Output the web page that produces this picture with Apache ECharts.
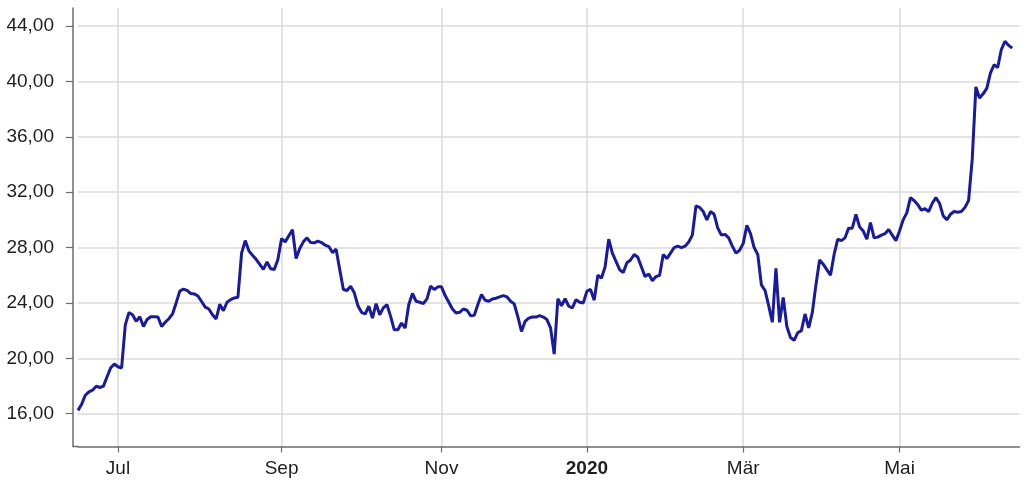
<!DOCTYPE html>
<html><head><meta charset="utf-8">
<script src="https://cdn.jsdelivr.net/npm/echarts@6/dist/echarts.min.js"></script>
<style>html,body{margin:0;padding:0;background:#fff}#c{width:1024px;height:494px}</style>
</head><body><div id="c"></div>
<script>
// trading-day calendar
const startDate = '2019-06-14';
const endDate = '2020-06-17';
const holidays = ['2019-12-24', '2019-12-25', '2019-12-26', '2020-04-10'];
// labelled month starts
const monthLabels = { '07': 'Jul', '09': 'Sep', '11': 'Nov', '01': '2020', '03': 'Mär', '05': 'Mai' };
const yTicks = [16, 20, 24, 28, 32, 36, 40, 44];
const yMin = 13.63;
const yMax = 45.3;

// closing prices, one per trading day
const prices = [
16.24,16.68,17.33,17.58,17.70,17.99,17.89,17.99,18.67,19.32,
19.59,19.39,19.30,22.40,23.30,23.15,22.67,23.00,22.30,22.80,
23.00,23.00,22.98,22.30,22.60,22.86,23.20,24.00,24.85,25.00,
24.90,24.68,24.65,24.50,24.10,23.70,23.56,23.15,22.84,23.90,
23.44,24.05,24.24,24.36,24.41,27.60,28.50,27.76,27.44,27.15,
26.79,26.42,26.96,26.47,26.42,27.15,28.65,28.41,28.85,29.28,
27.20,27.93,28.41,28.70,28.36,28.34,28.46,28.36,28.17,28.07,
27.64,27.88,26.42,24.97,24.90,25.20,24.73,23.80,23.32,23.20,
23.76,22.90,23.95,23.15,23.64,23.88,23.03,22.06,22.06,22.55,
22.18,23.88,24.68,24.12,24.05,23.95,24.29,25.21,24.97,25.16,
25.16,24.53,24.05,23.56,23.27,23.32,23.56,23.47,23.08,23.10,
23.88,24.60,24.19,24.12,24.29,24.34,24.44,24.53,24.44,24.12,
23.93,23.00,21.94,22.67,22.90,22.98,22.98,23.08,22.98,22.80,
22.20,20.30,24.30,23.80,24.30,23.76,23.64,24.24,24.05,24.00,
24.85,24.97,24.20,26.00,25.80,26.60,28.60,27.60,27.00,26.40,
26.20,26.90,27.10,27.50,27.30,26.60,25.90,26.10,25.60,25.90,
26.00,27.50,27.20,27.60,28.00,28.10,28.00,28.10,28.40,28.90,
31.00,30.90,30.60,30.00,30.60,30.40,29.40,28.90,28.95,28.70,
28.10,27.60,27.80,28.30,29.60,29.00,28.00,27.50,25.30,24.90,
23.80,22.60,26.50,22.60,24.40,22.30,21.50,21.30,21.85,22.00,
23.20,22.20,23.30,25.30,27.10,26.80,26.40,26.00,27.50,28.60,
28.50,28.70,29.40,29.40,30.40,29.50,29.20,28.60,29.80,28.70,
28.75,28.90,29.00,29.30,28.90,28.50,29.20,30.00,30.50,31.60,
31.40,31.10,30.70,30.80,30.60,31.20,31.60,31.20,30.30,30.00,
30.40,30.60,30.55,30.60,30.90,31.40,34.40,39.60,38.80,39.10,
39.50,40.60,41.20,41.00,42.30,42.90,42.60,42.40
];

function buildDates() {
  const out = [];
  const d = new Date(startDate + 'T00:00:00Z');
  const end = new Date(endDate + 'T00:00:00Z');
  while (d <= end) {
    const wd = d.getUTCDay();
    const s = d.toISOString().slice(0, 10);
    if (wd !== 0 && wd !== 6 && holidays.indexOf(s) < 0) out.push(s);
    d.setUTCDate(d.getUTCDate() + 1);
  }
  return out;
}
const dates = buildDates();
const isMark = dates.map((s, i) => i > 0 && s.slice(5, 7) !== dates[i - 1].slice(5, 7) && monthLabels[s.slice(5, 7)] !== undefined);

const FONT = 'Liberation Sans, Arial, Helvetica, sans-serif';
const chart = echarts.init(document.getElementById('c'), null, { renderer: 'canvas' });
chart.setOption({
  animation: false,
  backgroundColor: '#ffffff',
  grid: { left: 78, right: 4.5, top: 8, bottom: 47.5, containLabel: false },
  graphic: [{
    type: 'line', silent: true, z: 10,
    shape: { x1: 72.5, y1: 446.5, x2: 78.5, y2: 446.5 },
    style: { stroke: '#6b6b6b', lineWidth: 1.5 }
  }],
  xAxis: {
    type: 'category',
    data: dates,
    boundaryGap: false,
    axisLine: { show: true, lineStyle: { color: '#6b6b6b', width: 1.5 } },
    axisTick: { show: true, length: 6, interval: (i) => isMark[i], lineStyle: { color: '#6b6b6b', width: 1.2 } },
    splitLine: { show: true, interval: (i) => isMark[i], lineStyle: { color: '#dadada', width: 1.5 } },
    axisLabel: {
      interval: (i) => isMark[i],
      margin: 13,
      color: '#1e1e1e',
      fontFamily: FONT,
      fontSize: 19,
      formatter: (v) => {
        const t = monthLabels[v.slice(5, 7)];
        return t === '2020' ? '{b|' + t + '}' : t;
      },
      rich: { b: { fontWeight: 'bold', fontSize: 19, fontFamily: FONT, color: '#1e1e1e' } }
    }
  },
  yAxis: {
    type: 'value',
    min: yMin,
    max: yMax,
    offset: 5,
    axisLine: { show: true, lineStyle: { color: '#6b6b6b', width: 1.5 } },
    axisTick: { show: true, length: 7, customValues: yTicks, lineStyle: { color: '#6b6b6b', width: 1.2 } },
    splitLine: { show: true, lineStyle: { color: '#dadada', width: 1.5 } },
    axisLabel: {
      customValues: yTicks,
      margin: 19,
      color: '#1e1e1e',
      fontFamily: FONT,
      fontSize: 19,
      formatter: (v) => v.toFixed(2).replace('.', ',')
    }
  },
  series: [{
    type: 'line',
    data: prices,
    showSymbol: false,
    symbol: 'none',
    lineStyle: { color: '#1a1a9c', width: 3 },
    z: 3
  }]
});
</script>
</body></html>
